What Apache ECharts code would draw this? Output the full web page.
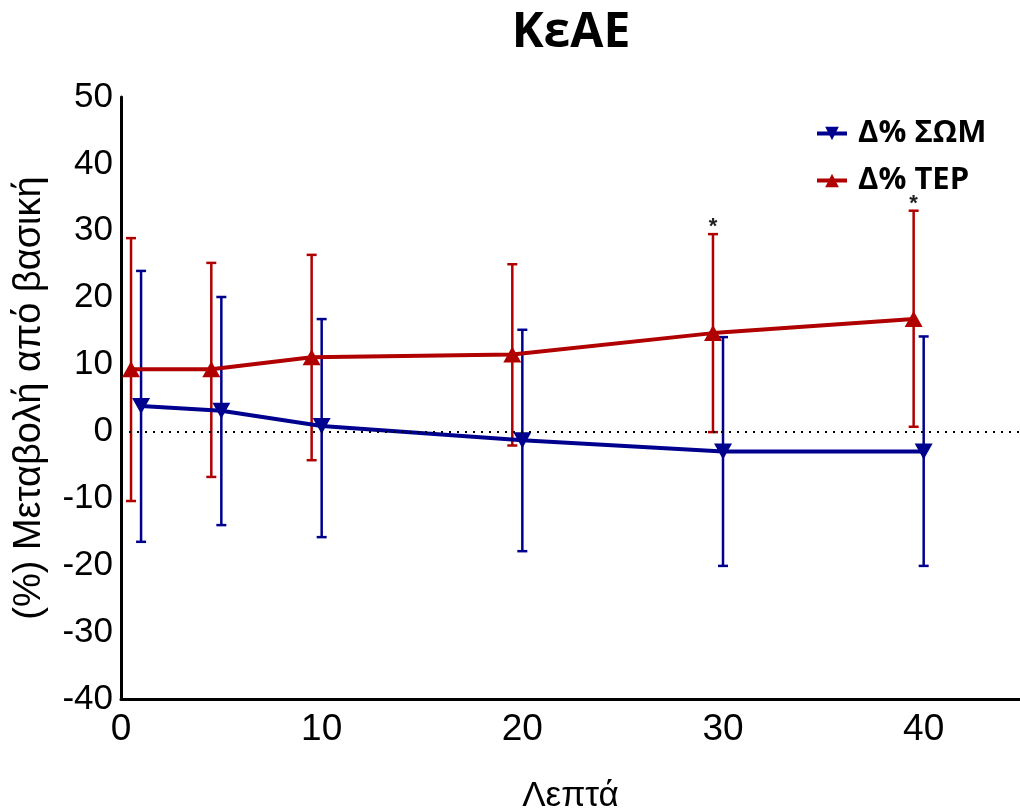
<!DOCTYPE html>
<html>
<head>
<meta charset="utf-8">
<script src="https://cdn.jsdelivr.net/npm/echarts@6/dist/echarts.min.js"></script>
<style>html,body{margin:0;padding:0;background:#fff;}#chart{width:1020px;height:812px;}</style>
</head>
<body>
<div id="chart"></div>
<script>
// Data
const somX = [1, 5, 10, 20, 30, 40];
const somMean = [3.8, 3.1, 0.8, -1.3, -3.0, -3.0];
const somLow = [-16.5, -14.0, -15.8, -17.9, -20.1, -20.1];
const somHigh = [24.0, 20.1, 16.8, 15.2, 14.1, 14.2];
const somSig = [0, 0, 0, 0, 0, 0];

const tepX = [0.5, 4.5, 9.5, 19.5, 29.5, 39.5];
const tepMean = [9.3, 9.3, 11.1, 11.5, 14.7, 16.8];
const tepLow = [-10.4, -6.8, -4.3, -2.1, -0.1, 0.7];
const tepHigh = [28.9, 25.2, 26.4, 25.0, 29.5, 33.0];
const tepSig = [0, 0, 0, 0, 1, 1]; // 1 = significant (*)

const xTicks = [0, 10, 20, 30, 40];
const seriesNames = ['Δ% ΣΩΜ', 'Δ% ΤΕΡ'];

const BLUE = '#00008F';
const RED = '#B00000';

function errData(xs, lo, hi, sig) {
  return xs.map((x, i) => [x, lo[i], hi[i], sig[i]]);
}

function errRender(color) {
  return function (params, api) {
    const x = api.value(0);
    const top = api.coord([x, api.value(2)]);
    const bot = api.coord([x, api.value(1)]);
    const w = 5;
    const style = { stroke: color, lineWidth: 2.5 };
    const children = [
      { type: 'line', shape: { x1: top[0], y1: top[1], x2: bot[0], y2: bot[1] }, style: style },
      { type: 'line', shape: { x1: top[0] - w, y1: top[1], x2: top[0] + w, y2: top[1] }, style: style },
      { type: 'line', shape: { x1: bot[0] - w, y1: bot[1], x2: bot[0] + w, y2: bot[1] }, style: style }
    ];
    if (api.value(3) === 1) {
      children.push({
        type: 'text',
        style: {
          text: '*', x: top[0], y: top[1] - 7,
          textAlign: 'center', textVerticalAlign: 'middle',
          fontSize: 22, fontWeight: 'bold', fontFamily: 'Liberation Sans', fill: '#222'
        }
      });
    }
    return { type: 'group', children: children };
  };
}

const chart = echarts.init(document.getElementById('chart'));
const option = {
  animation: false,
  backgroundColor: '#fff',
  title: {
    text: 'ΚεΑΕ',
    left: 566,
    textAlign: 'center',
    top: 4,
    textStyle: { fontFamily: 'Open Sans', fontWeight: 'bold', fontSize: 48, color: '#000' }
  },
  legend: {
    orient: 'vertical',
    left: 810,
    top: 113,
    itemWidth: 30,
    itemHeight: 17,
    itemGap: 16,
    data: seriesNames,
    lineStyle: { width: 4 },
    textStyle: { fontFamily: 'Open Sans', fontWeight: 'bold', fontSize: 31, color: '#000', padding: [0, 0, 0, 6] }
  },
  grid: { left: 121, right: 0, top: 97, bottom: 113, containLabel: false, outerBoundsMode: 'none' },
  xAxis: {
    type: 'value',
    min: 0, max: 44.8, interval: 10,
    name: 'Λεπτά',
    nameLocation: 'middle',
    nameGap: 80,
    nameTextStyle: { fontFamily: 'Liberation Sans', fontSize: 35, color: '#000' },
    axisLine: { onZero: false, lineStyle: { color: '#000', width: 3 } },
    axisTick: { show: false },
    splitLine: { show: false },
    axisLabel: {
      fontFamily: 'Liberation Sans', fontSize: 37, color: '#000', margin: 12,
      formatter: v => xTicks.indexOf(v) >= 0 ? String(v) : ''
    }
  },
  yAxis: {
    type: 'value',
    min: -40, max: 50, interval: 10,
    name: '(%) Μεταβολή από βασική',
    nameLocation: 'middle',
    nameGap: 72,
    nameTextStyle: { fontFamily: 'Liberation Sans', fontSize: 38, color: '#000' },
    axisLine: { show: true, onZero: false, lineStyle: { color: '#000', width: 3 } },
    axisTick: { show: false },
    splitLine: { show: false },
    axisLabel: { fontFamily: 'Liberation Sans', fontSize: 35, color: '#000', margin: 8 }
  },
  series: [
    {
      name: 'errTEP', type: 'custom', renderItem: errRender(RED),
      data: errData(tepX, tepLow, tepHigh, tepSig), z: 2, silent: true,
      encode: { x: 0, y: [1, 2] }
    },
    {
      name: 'errSOM', type: 'custom', renderItem: errRender(BLUE),
      data: errData(somX, somLow, somHigh, somSig), z: 2, silent: true,
      encode: { x: 0, y: [1, 2] }
    },
    {
      name: seriesNames[1], type: 'line',
      data: tepX.map((x, i) => [x, tepMean[i]]),
      symbol: 'triangle', symbolSize: [18, 16],
      lineStyle: { color: RED, width: 4 },
      itemStyle: { color: RED },
      z: 3
    },
    {
      name: seriesNames[0], type: 'line',
      data: somX.map((x, i) => [x, somMean[i]]),
      symbol: 'triangle', symbolSize: [18, 16], symbolRotate: 180,
      lineStyle: { color: BLUE, width: 4 },
      itemStyle: { color: BLUE },
      z: 4,
      markLine: {
        silent: true, symbol: 'none', label: { show: false },
        lineStyle: { color: '#000', width: 2, type: [2, 6] },
        data: [{ yAxis: 0 }]
      }
    }
  ]
};
chart.setOption(option);
</script>
</body>
</html>
